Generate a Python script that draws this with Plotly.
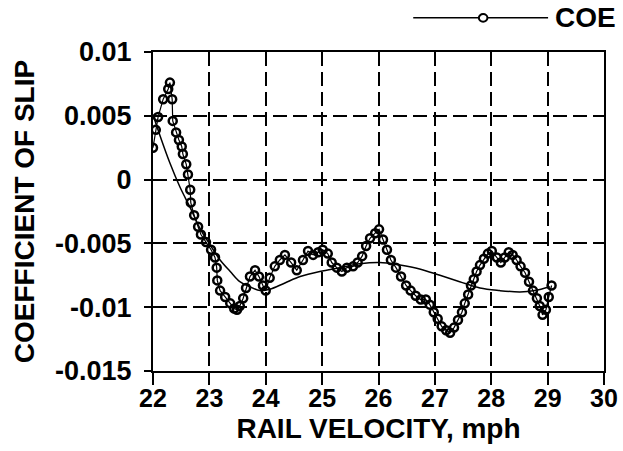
import plotly.graph_objects as go

# Measured coefficient of slip vs. rail velocity
velocity = [22.00, 22.05, 22.09, 22.18, 22.27, 22.30, 22.34, 22.35, 22.41, 22.46,
            22.51, 22.53, 22.59, 22.62, 22.66, 22.67, 22.73, 22.80, 22.85, 22.94,
            23.03, 23.10, 23.13, 23.14, 23.19, 23.28, 23.37, 23.44, 23.49, 23.54,
            23.60, 23.65, 23.72, 23.81, 23.88, 23.95, 24.00, 24.07, 24.16, 24.25,
            24.34, 24.45, 24.55, 24.66, 24.75, 24.84, 24.93, 25.01, 25.10, 25.17,
            25.26, 25.35, 25.44, 25.55, 25.63, 25.71, 25.78, 25.85, 25.94, 26.01,
            26.08, 26.15, 26.22, 26.31, 26.40, 26.49, 26.57, 26.66, 26.75, 26.84,
            26.91, 26.98, 27.05, 27.12, 27.20, 27.27, 27.34, 27.41, 27.48, 27.53,
            27.59, 27.64, 27.69, 27.74, 27.80, 27.87, 27.94, 28.01, 28.10, 28.17,
            28.24, 28.31, 28.38, 28.45, 28.52, 28.60, 28.67, 28.74, 28.81, 28.86,
            28.91, 28.97, 29.02, 29.07]
coe = [0.0025, 0.0039, 0.0049, 0.0063, 0.0071, 0.0076, 0.0063, 0.0046, 0.0037, 0.0031,
       0.0026, 0.0020, 0.0012, 0.0004, -0.0008, -0.0018, -0.0028, -0.0037, -0.0043, -0.0049,
       -0.0055, -0.0061, -0.0069, -0.0079, -0.0087, -0.0092, -0.0097, -0.0101, -0.0102, -0.0099,
       -0.0093, -0.0085, -0.0076, -0.0071, -0.0076, -0.0083, -0.0087, -0.0077, -0.0068, -0.0063,
       -0.0059, -0.0065, -0.0071, -0.0063, -0.0056, -0.0059, -0.0057, -0.0055, -0.0058, -0.0065,
       -0.0069, -0.0072, -0.0069, -0.0068, -0.0065, -0.0060, -0.0052, -0.0046, -0.0042, -0.0039,
       -0.0047, -0.0055, -0.0063, -0.0069, -0.0076, -0.0083, -0.0087, -0.0091, -0.0094, -0.0094,
       -0.0098, -0.0104, -0.0109, -0.0115, -0.0118, -0.0120, -0.0116, -0.0110, -0.0104, -0.0097,
       -0.0090, -0.0083, -0.0078, -0.0072, -0.0067, -0.0062, -0.0058, -0.0056, -0.0061, -0.0065,
       -0.0061, -0.0057, -0.0059, -0.0063, -0.0068, -0.0073, -0.0080, -0.0087, -0.0093, -0.0099,
       -0.0106, -0.0102, -0.0092, -0.0083]

# Smooth trend curve through the measurements
fit_velocity = [22.00, 22.12, 22.30, 22.48, 22.66, 22.83, 23.01, 23.19, 23.37, 23.54,
                23.72, 23.90, 24.07, 24.34, 24.61, 24.96, 25.32, 25.67, 26.02, 26.38,
                26.73, 27.09, 27.44, 27.80, 28.15, 28.51, 28.77, 29.04]
fit_coe = [0.0051, 0.0035, 0.0013, -0.0006, -0.0022, -0.0038, -0.0051, -0.0063, -0.0072, -0.0080,
           -0.0084, -0.0087, -0.0086, -0.0081, -0.0076, -0.0072, -0.0069, -0.0066, -0.0065, -0.0067,
           -0.0070, -0.0075, -0.0080, -0.0085, -0.0087, -0.0088, -0.0087, -0.0084]

x_ticks = [22, 23, 24, 25, 26, 27, 28, 29, 30]
y_ticks = [0.01, 0.005, 0, -0.005, -0.01, -0.015]
y_ticktext = ["0.01", "0.005", "0", "-0.005", "-0.01", "-0.015"]

FONT = "Liberation Sans, Arial, sans-serif"

fig = go.Figure()
fig.add_trace(go.Scatter(
    x=fit_velocity, y=fit_coe, mode="lines",
    line=dict(color="black", width=1.5, shape="spline", smoothing=1.0),
    showlegend=False, hoverinfo="skip",
))
fig.add_trace(go.Scatter(
    x=velocity, y=coe, mode="lines+markers", name="COE",
    line=dict(color="black", width=1.2),
    marker=dict(symbol="circle-open", size=8, color="black", line=dict(width=2.5, color="black")),
    showlegend=False,
))

axis_common = dict(
    showline=True, linecolor="black", linewidth=2, mirror=True,
    showgrid=True, gridcolor="black", gridwidth=2, griddash="14px,6px",
    ticks="outside", tickcolor="black", tickwidth=2,
    zeroline=False, automargin=False,
)

fig.update_xaxes(
    range=[22, 30], tickvals=x_ticks, ticklen=12, ticklabelstandoff=-8,
    tickfont=dict(family=FONT, size=25, color="black", weight="bold"),
    title=dict(text="RAIL VELOCITY, mph", standoff=7,
               font=dict(family=FONT, size=28, color="black", weight="bold")),
    **axis_common,
)
fig.update_yaxes(
    range=[-0.015, 0.01], tickvals=y_ticks, ticktext=y_ticktext, ticklen=7,
    ticklabelstandoff=7,
    tickfont=dict(family=FONT, size=27, color="black", weight="bold"),
    title=dict(text="COEFFICIENT OF SLIP", standoff=12,
               font=dict(family=FONT, size=28, color="black", weight="bold")),
    **axis_common,
)

# Legend key drawn above the plot: long line with a centred open circle
fig.add_shape(type="line", xref="paper", yref="paper",
              x0=0.577, x1=0.876, y0=1.107, y1=1.107,
              line=dict(color="black", width=1.5))
fig.add_shape(type="circle", xref="paper", yref="paper",
              x0=0.732 - 0.0095, x1=0.732 + 0.0095, y0=1.107 - 0.012, y1=1.107 + 0.012,
              fillcolor="white", line=dict(color="black", width=2))
fig.add_annotation(text="COE", xref="paper", yref="paper", x=0.888, y=1.107,
                   xanchor="left", yanchor="middle", showarrow=False,
                   font=dict(family=FONT, size=28, color="black", weight="bold"))

fig.update_layout(
    width=623, height=451,
    margin=dict(l=153, r=19, t=52, b=80),
    paper_bgcolor="white", plot_bgcolor="white",
    showlegend=False,
)

fig.write_html("out.html")
